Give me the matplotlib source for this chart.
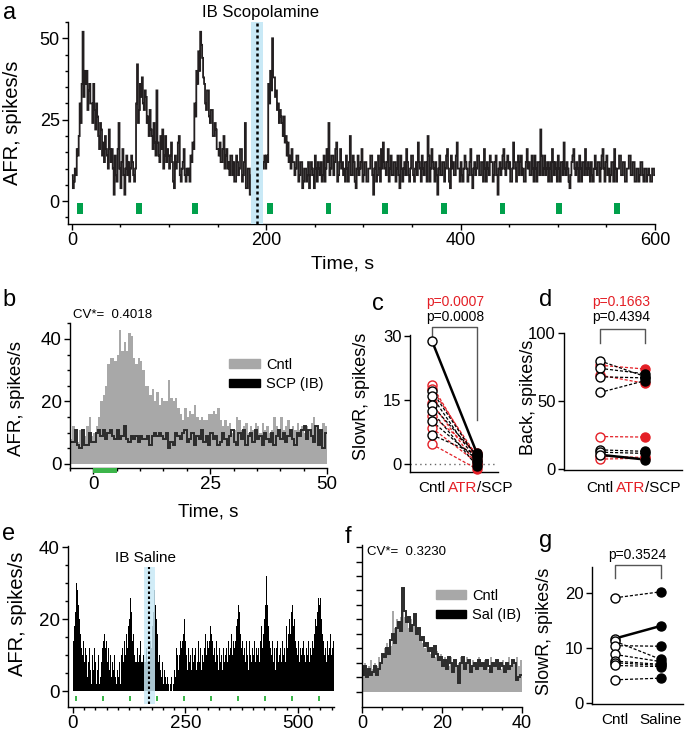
import numpy as np
import matplotlib
matplotlib.use("Agg")
import matplotlib.pyplot as plt
from matplotlib.patches import Patch
from matplotlib.ticker import MultipleLocator

plt.rcParams['font.family'] = ['Liberation Sans', 'DejaVu Sans']
plt.rcParams['axes.linewidth'] = 1.0

RED = '#e41f26'
GRAY = '#a8a8a8'
BLUE = '#c9e9f6'
GREEN_A = '#00a04b'
GREEN_B = '#3cb54a'
NARROW = ['Liberation Sans Narrow', 'Liberation Sans']

# ---- panel a : long recording, 1 s bins, scopolamine ----
afr_a = [
    8, 4, 6, 10, 8, 16, 14, 20, 30, 24, 36, 52, 32, 40, 36, 40, 28, 34, 36, 30,
    30, 24, 36, 28, 22, 30, 26, 20, 16, 24, 22, 14, 18, 12, 20, 16, 14, 10, 22, 16,
    12, 16, 10, 2, 14, 8, 6, 16, 24, 10, 4, 12, 16, 8, 2, 10, 14, 8, 12, 6,
    10, 14, 12, 8, 6, 10, 30, 42, 24, 28, 36, 32, 38, 30, 28, 34, 32, 24, 26, 20,
    28, 22, 20, 16, 24, 18, 14, 34, 18, 14, 12, 20, 16, 22, 10, 14, 20, 12, 16, 14,
    10, 14, 18, 12, 6, 4, 14, 10, 12, 18, 20, 8, 6, 10, 12, 16, 8, 6, 10, 8,
    10, 6, 14, 12, 18, 16, 30, 26, 40, 36, 46, 40, 52, 48, 44, 38, 36, 30, 28, 34,
    34, 26, 24, 28, 28, 20, 20, 24, 22, 16, 16, 14, 18, 12, 12, 16, 20, 10, 14, 16,
    10, 12, 8, 14, 14, 8, 12, 6, 6, 14, 12, 8, 10, 16, 16, 6, 8, 12, 24, 4,
    4, 10, 10, 2, 2, 8, 8, 12, 10, 4, 6, 12, 12, 6, 8, 10, 10, 12, 14, 10,
    14, 12, 36, 30, 40, 34, 50, 38, 38, 32, 34, 28, 30, 24, 28, 26, 24, 20, 26, 18,
    20, 14, 18, 12, 14, 10, 16, 12, 12, 8, 10, 14, 14, 6, 8, 12, 12, 4, 6, 10,
    10, 6, 8, 12, 4, 8, 12, 10, 8, 4, 14, 10, 6, 12, 10, 8, 12, 6, 8, 14,
    6, 10, 16, 12, 24, 8, 10, 14, 14, 8, 12, 16, 18, 6, 8, 12, 16, 10, 12, 8,
    10, 6, 14, 10, 6, 12, 20, 8, 8, 14, 12, 6, 4, 10, 14, 8, 10, 12, 16, 6,
    8, 12, 12, 6, 6, 10, 10, 14, 14, 8, 2, 10, 12, 6, 8, 14, 10, 6, 16, 10,
    18, 12, 10, 8, 12, 16, 6, 10, 14, 8, 8, 12, 12, 6, 10, 14, 8, 4, 14, 10,
    6, 10, 12, 8, 16, 12, 8, 6, 10, 14, 14, 8, 6, 10, 12, 8, 18, 12, 10, 6,
    14, 10, 8, 12, 12, 6, 20, 14, 6, 10, 16, 12, 10, 6, 12, 8, 2, 10, 14, 8,
    8, 12, 12, 6, 10, 14, 16, 10, 6, 4, 14, 10, 12, 8, 8, 14, 18, 10, 10, 6,
    12, 8, 6, 10, 14, 12, 10, 6, 8, 12, 16, 8, 4, 10, 12, 8, 10, 14, 14, 8,
    8, 12, 12, 6, 16, 10, 6, 12, 10, 8, 14, 12, 12, 6, 8, 12, 14, 8, 2, 10,
    12, 8, 10, 14, 16, 10, 8, 12, 14, 10, 12, 6, 6, 10, 18, 12, 10, 6, 12, 14,
    8, 12, 14, 8, 10, 6, 6, 12, 16, 10, 12, 8, 8, 14, 10, 6, 14, 10, 6, 12,
    12, 8, 22, 14, 8, 10, 14, 8, 10, 12, 6, 10, 12, 6, 16, 12, 8, 12, 10, 6,
    14, 10, 6, 12, 12, 8, 18, 10, 8, 12, 10, 6, 4, 8, 12, 14, 16, 10, 8, 12,
    10, 6, 14, 10, 6, 12, 12, 8, 16, 10, 8, 12, 10, 6, 12, 8, 6, 10, 14, 10,
    8, 12, 12, 6, 10, 14, 16, 10, 6, 12, 14, 8, 10, 6, 8, 12, 12, 6, 16, 10,
    6, 10, 10, 14, 14, 8, 8, 12, 12, 6, 6, 10, 10, 14, 14, 8, 8, 12, 12, 6,
    6, 10, 10, 6, 8, 12, 12, 8, 6, 10, 10, 6, 8, 10, 8, 6, 6, 10, 10, 8,
]
stim_a = [5, 66, 124, 201, 261, 319, 380, 440, 498, 558]
scop_band = (184, 197)
scop_time = 190

# ---- panel b : averaged cycle, 0.5 s bins ----
cntl_b = [
    8, 12, 9, 7, 11, 8, 9, 12, 15, 9,
    10, 12, 15, 20, 22, 25, 32, 34, 34, 33,
    35, 43, 36, 39, 36, 42, 41, 34, 32, 34,
    33, 30, 25, 25, 22, 24, 20, 23, 19, 21,
    20, 20, 27, 21, 20, 21, 18, 16, 14, 18,
    15, 17, 16, 19, 15, 14, 15, 14, 14, 16,
    16, 17, 16, 18, 14, 12, 14, 12, 13, 10,
    11, 15, 14, 11, 12, 13, 10, 12, 11, 13,
    12, 10, 13, 11, 12, 10, 11, 15, 12, 11,
    15, 11, 12, 14, 10, 12, 11, 13, 11, 12,
    10, 12, 11, 13, 15, 12, 11, 10, 13, 12,
]
scp_b = [
    7, 7, 11, 6, 5, 11, 6, 6, 10, 7,
    7, 10, 11, 9, 11, 8, 10, 11, 9, 8,
    11, 8, 9, 12, 8, 7, 9, 8, 9, 7,
    9, 8, 8, 9, 6, 9, 10, 9, 10, 9,
    8, 10, 5, 7, 6, 10, 9, 8, 10, 11,
    7, 8, 10, 6, 9, 8, 11, 7, 9, 6,
    10, 8, 9, 6, 7, 10, 8, 6, 9, 11,
    7, 6, 10, 8, 11, 6, 9, 10, 7, 11,
    8, 9, 6, 10, 8, 7, 10, 6, 9, 11,
    8, 10, 7, 9, 11, 8, 6, 10, 9, 11,
    12, 8, 11, 9, 7, 12, 6, 11, 5, 10,
]

# ---- panel c / d : slow rhythm and background ----
slow_cntl_black = [28.8, 17.0, 15.8, 13.7, 12.3, 10.0, 6.8]
slow_scp_black = [2.5, 1.5, 0.5, 2.0, -0.5, 1.0, 2.2]
slow_cntl_red = [18.4, 17.6, 14.2, 11.3, 8.4, 4.6]
slow_atr_red = [0.8, 1.8, -0.2, 2.6, 0.3, -1.2]

back_cntl_black = [79.5, 74.0, 67.8, 56.3, 14.1, 12.4, 10.5]
back_scp_black = [68.0, 70.0, 67.0, 65.0, 13.0, 11.5, 7.0]
back_cntl_red = [76.3, 69.0, 23.9, 9.3, 7.3]
back_atr_red = [73.5, 63.0, 23.5, 8.5, 8.0]

# ---- panel e : saline recording, 2 s bins ----
afr_e = [
    14, 18, 22, 30, 34, 28, 24, 20, 16, 12,
    10, 14, 8, 12, 6, 10, 4, 8, 12, 6,
    2, 10, 6, 12, 4, 8, 2, 6, 10, 2,
    4, 8, 12, 14, 10, 16, 12, 14, 8, 12,
    6, 10, 4, 8, 2, 6, 10, 4, 2, 6,
    4, 8, 2, 10, 6, 12, 8, 14, 10, 16,
    12, 18, 20, 26, 18, 22, 14, 16, 10, 8,
    8, 12, 8, 10, 8, 14, 8, 8, 10, 8,
    8, 12, 8, 8, 10, 8, 14, 12, 18, 22,
    28, 24, 20, 16, 12, 8, 10, 6, 4, 8,
    2, 6, 4, 2, 8, 4, 2, 0, 2, 4,
    0, 2, 6, 4, 8, 12, 10, 6, 10, 14,
    12, 14, 16, 20, 18, 14, 10, 6, 12, 8,
    10, 6, 12, 8, 4, 10, 12, 6, 8, 14,
    8, 12, 6, 10, 14, 8, 12, 16, 10, 14,
    12, 14, 18, 16, 24, 14, 10, 12, 8, 14,
    10, 6, 12, 8, 14, 10, 6, 12, 8, 10,
    12, 8, 14, 10, 6, 12, 16, 10, 14, 12,
    14, 18, 20, 24, 32, 22, 16, 12, 14, 10,
    12, 8, 14, 10, 12, 6, 14, 10, 8, 12,
    10, 14, 8, 12, 16, 10, 12, 8, 14, 18,
    12, 16, 20, 24, 28, 32, 24, 18, 14, 12,
    10, 14, 8, 12, 10, 6, 12, 14, 8, 10,
    12, 8, 14, 10, 16, 12, 8, 18, 12, 16,
    20, 16, 22, 24, 32, 18, 20, 14, 12, 10,
    14, 8, 12, 10, 6, 12, 14, 10, 8, 12,
    10, 14, 8, 12, 16, 10, 14, 12, 16, 20,
    18, 22, 26, 24, 30, 26, 20, 16, 14, 10,
    12, 8, 14, 10, 6, 12, 16, 10, 12, 14,
]
stim_e = [4, 64, 124, 184, 244, 304, 364, 424, 484, 544]
sal_band = (158, 182)
sal_time = 169

# ---- panel f : averaged cycle, saline ----
cntl_f = [
    8, 10, 7, 9, 11, 8, 10, 9, 12, 10,
    13, 15, 17, 14, 16, 28, 22, 25, 24, 26,
    28, 26, 24, 22, 25, 23, 27, 22, 20, 18,
    17, 15, 16, 14, 13, 15, 12, 14, 11, 13,
    10, 12, 11, 9, 12, 10, 11, 9, 10, 12,
    11, 9, 12, 10, 8, 11, 10, 9, 12, 10,
    9, 11, 10, 8, 12, 10, 9, 11, 10, 8,
    11, 9, 10, 12, 9, 11, 10, 12, 9, 11,
]
sal_f = [
    6, 9, 5, 8, 6, 7, 9, 6, 8, 10,
    13, 12, 15, 13, 18, 20, 17, 22, 24, 21,
    36, 28, 24, 26, 21, 23, 27, 20, 22, 18,
    19, 16, 17, 14, 15, 12, 16, 13, 11, 12,
    9, 11, 8, 12, 10, 7, 11, 9, 3, 10,
    12, 8, 10, 11, 7, 9, 10, 8, 11, 9,
    10, 8, 11, 9, 7, 10, 9, 11, 8, 10,
    9, 7, 10, 8, 9, 11, 10, 4, 5, 6,
]

# ---- panel g : saline slow rhythm ----
sal_cntl = [19.1, 11.7, 11.2, 10.4, 8.8, 7.6, 7.3, 6.8, 4.2]
sal_ib = [20.2, 14.0, 7.9, 10.3, 7.5, 7.0, 6.8, 6.6, 4.5]


fig = plt.figure(figsize=(6.85, 7.32), dpi=100)
fig.patch.set_facecolor('white')


def px_axes(left, top, right, bottom):
    return fig.add_axes([left / 685, 1 - bottom / 732, (right - left) / 685, (bottom - top) / 732])


def clean(ax, size):
    ax.spines['top'].set_visible(False)
    ax.spines['right'].set_visible(False)
    ax.tick_params(which='major', direction='out', length=4, width=1, labelsize=size, pad=2)
    ax.tick_params(which='minor', direction='out', length=2.5, width=1)


def panel_letter(x, y, s):
    fig.text(x / 685, 1 - y / 732, s, fontsize=17, ha='center', va='center')


# ---------------- a ----------------
ax = px_axes(68, 22, 655, 224)
clean(ax, 13)
edges = np.arange(0, len(afr_a) + 1, 1)
ax.stairs(afr_a, edges, baseline=None, color='#231f20', lw=1.3)
ax.axvspan(scop_band[0], scop_band[1], color=BLUE, zorder=3, lw=0)
ax.axvline(scop_time, color='k', ls=(0, (1.2, 1.2)), lw=1.8, zorder=4)
ax.bar(stim_a, -3.4, bottom=-0.6, width=6, align='edge', color=GREEN_A, zorder=4)
ax.set_xlim(-4, 600)
ax.set_ylim(-7, 55)
ax.set_xticks([0, 200, 400, 600])
ax.set_yticks([0, 25, 50])
ax.xaxis.set_minor_locator(MultipleLocator(50))
ax.yaxis.set_minor_locator(MultipleLocator(5))
for lab in ax.get_xticklabels() + ax.get_yticklabels():
    lab.set_family(NARROW)
ax.text(194, 58, 'IB Scopolamine', family=NARROW, fontsize=12, ha='center', va='center', clip_on=False)
ax.set_ylabel('AFR, spikes/s', fontsize=14.5)
ax.yaxis.set_label_coords(-0.078, 0.5)
ax.set_xlabel('Time, s', fontsize=14)
ax.xaxis.set_label_coords(0.468, -0.158)
panel_letter(10, 13, 'a')

# ---------------- b ----------------
ax = px_axes(70, 323, 327, 468)
clean(ax, 13.5)
edges = np.arange(len(cntl_b) + 1) * 0.5 - 5
ax.stairs(cntl_b, edges, fill=True, color=GRAY)
ax.stairs(scp_b, edges, baseline=None, color='#2b2b2b', lw=1.4)
ax.bar(0, -1.6, bottom=-1.3, width=5, align='edge', color=GREEN_B, clip_on=False, zorder=5)
ax.set_xlim(-5, 50)
ax.set_ylim(-1.3, 45.1)
ax.set_xticks([0, 25, 50])
ax.set_yticks([0, 20, 40])
ax.xaxis.set_minor_locator(MultipleLocator(5))
ax.yaxis.set_minor_locator(MultipleLocator(5))
ax.text(-4.4, 47.5, 'CV*=  0.4018', fontsize=9.5, ha='left', va='center', clip_on=False)
handles = [Patch(facecolor=GRAY, edgecolor=GRAY), Patch(facecolor='black', edgecolor='black')]
ax.legend(handles, ['Cntl', 'SCP (IB)'], loc='upper left', bbox_to_anchor=(0.62, 0.76),
          frameon=False, fontsize=10.5, handlelength=2.1, handleheight=0.5,
          handletextpad=0.4, labelspacing=0.35, borderpad=0, borderaxespad=0)
ax.set_ylabel('AFR, spikes/s', fontsize=13.5)
ax.yaxis.set_label_coords(-0.175, 0.48)
ax.set_xlabel('Time, s', fontsize=13.5)
ax.xaxis.set_label_coords(0.537, -0.245)
panel_letter(9, 300, 'b')


def pair_plot(ax, cntl, treat, color, solid_idx=None):
    for i, (a0, a1) in enumerate(zip(cntl, treat)):
        if i == solid_idx:
            ax.plot([0, 1], [a0, a1], color=color, lw=1.8, zorder=2, clip_on=False)
        else:
            ax.plot([0, 1], [a0, a1], color=color, lw=0.9, ls=(0, (2.5, 1.5)), zorder=2, clip_on=False)
    ax.plot([0] * len(cntl), cntl, 'o', mfc='white', mec=color, mew=1.0, ms=6.5, zorder=3, clip_on=False)
    ax.plot([1] * len(treat), treat, 'o', mfc=color, mec=color, mew=1.0, ms=6.5, zorder=3, clip_on=False)


def bracket(ax, ytop, yleft, yright):
    ax.plot([0, 0, 1, 1], [yleft, ytop, ytop, yright], color='#555555', lw=1, clip_on=False)


def group_labels(ax, ypos, right_red, right_black):
    tr = ax.get_xaxis_transform()
    ax.text(0, ypos, 'Cntl', transform=tr, ha='center', va='center', fontsize=11)
    if right_red:
        ax.text(1, ypos, right_red, transform=tr, ha='right', va='center', fontsize=11, color=RED)
        ax.text(1, ypos, right_black, transform=tr, ha='left', va='center', fontsize=11)
    else:
        ax.text(1, ypos, right_black, transform=tr, ha='center', va='center', fontsize=11)


# ---------------- c ----------------
ax = px_axes(410, 335, 498, 472)
clean(ax, 12)
ax.axhline(0, color='#666666', ls=(0, (1, 2.5)), lw=1, zorder=1)
pair_plot(ax, slow_cntl_red, slow_atr_red, RED)
pair_plot(ax, slow_cntl_black, slow_scp_black, 'black', solid_idx=0)
ax.set_xlim(-0.49, 1.47)
ax.set_ylim(-1.9, 30.2)
ax.set_yticks([0, 15, 30])
ax.set_xticks([])
bracket(ax, 32.1, 30.0, 10.3)
ax.text(0.51, 37.9, 'p=0.0007', color=RED, fontsize=10, ha='center', va='center', clip_on=False)
ax.text(0.51, 34.4, 'p=0.0008', color='black', fontsize=10, ha='center', va='center', clip_on=False)
group_labels(ax, -0.117, 'ATR', '/SCP')
ax.set_ylabel('SlowR, spikes/s', fontsize=13)
ax.yaxis.set_label_coords(-0.45, 0.55)
panel_letter(378, 304, 'c')

# ---------------- d ----------------
ax = px_axes(564, 333, 682, 470)
clean(ax, 12)
pair_plot(ax, back_cntl_red, back_atr_red, RED)
pair_plot(ax, back_cntl_black, back_scp_black, 'black', solid_idx=6)
ax.set_xlim(-0.8, 1.82)
ax.set_ylim(-0.7, 100)
ax.set_yticks([0, 50, 100])
ax.set_xticks([])
bracket(ax, 103, 92.6, 92.6)
ax.text(0.47, 122.8, 'p=0.1663', color=RED, fontsize=10, ha='center', va='center', clip_on=False)
ax.text(0.47, 111.8, 'p=0.4394', color='black', fontsize=10, ha='center', va='center', clip_on=False)
group_labels(ax, -0.13, 'ATR', '/SCP')
ax.set_ylabel('Back, spikes/s', fontsize=13)
ax.yaxis.set_label_coords(-0.23, 0.53)
panel_letter(546, 300, 'd')

# ---------------- e ----------------
ax = px_axes(68, 546, 334, 707)
clean(ax, 13.5)
edges = np.arange(0, 2 * len(afr_e) + 1, 2)
ax.stairs(afr_e, edges, fill=True, color='black', lw=0)
ax.fill_between(sal_band, -3.6, 34.5, color=BLUE, lw=0, alpha=0.85, zorder=3)
ax.plot([sal_time, sal_time], [-3.6, 34.5], color='k', ls=(0, (1.2, 1.2)), lw=1.5, zorder=4)
ax.bar(stim_e, -1.5, bottom=-1.3, width=5, align='edge', color=GREEN_B, zorder=4)
ax.text(162, 37, 'IB Saline', fontsize=11, ha='center', va='center')
ax.set_xlim(-11, 580)
ax.set_ylim(-4.4, 40.3)
ax.set_xticks([0, 250, 500])
ax.set_yticks([0, 20, 40])
ax.xaxis.set_minor_locator(MultipleLocator(25))
ax.yaxis.set_minor_locator(MultipleLocator(5))
ax.set_ylabel('AFR, spikes/s', fontsize=14.5)
ax.yaxis.set_label_coords(-0.154, 0.58)
panel_letter(9, 534, 'e')

# ---------------- f ----------------
ax = px_axes(362, 545, 522, 707)
clean(ax, 13)
edges = np.arange(len(cntl_f) + 1) * 0.5
ax.stairs(cntl_f, edges, fill=True, color=GRAY)
ax.stairs(sal_f, edges, baseline=None, color='#2b2b2b', lw=1.4)
ax.set_xlim(0, 40)
ax.set_ylim(-5.2, 50.7)
ax.set_xticks([0, 20, 40])
ax.xaxis.set_minor_locator(MultipleLocator(5))
ax.set_yticks(np.arange(0, 51, 5))
ax.set_yticklabels([])
ax.text(1.2, 48.3, 'CV*=  0.3230', fontsize=9.5, ha='left', va='center')
handles = [Patch(facecolor=GRAY, edgecolor=GRAY), Patch(facecolor='black', edgecolor='black')]
ax.legend(handles, ['Cntl', 'Sal (IB)'], loc='upper left', bbox_to_anchor=(0.46, 0.73),
          frameon=False, fontsize=10.5, handlelength=2.1, handleheight=0.5,
          handletextpad=0.4, labelspacing=0.35, borderpad=0, borderaxespad=0)
panel_letter(348, 537, 'f')

# ---------------- g ----------------
ax = px_axes(592, 567, 683, 704)
clean(ax, 12)
pair_plot(ax, sal_cntl, sal_ib, 'black', solid_idx=1)
ax.set_xlim(-0.5, 1.48)
ax.set_ylim(-0.2, 24.7)
ax.set_yticks([0, 10, 20])
ax.set_xticks([])
bracket(ax, 25.1, 22.7, 22.7)
ax.text(0.48, 26.9, 'p=0.3524', fontsize=10, ha='center', va='center', clip_on=False)
group_labels(ax, -0.117, None, 'Saline')
ax.set_ylabel('SlowR, spikes/s', fontsize=13)
ax.yaxis.set_label_coords(-0.43, 0.53)
panel_letter(546, 541, 'g')

fig.savefig('out.png', dpi=100, facecolor='white')
